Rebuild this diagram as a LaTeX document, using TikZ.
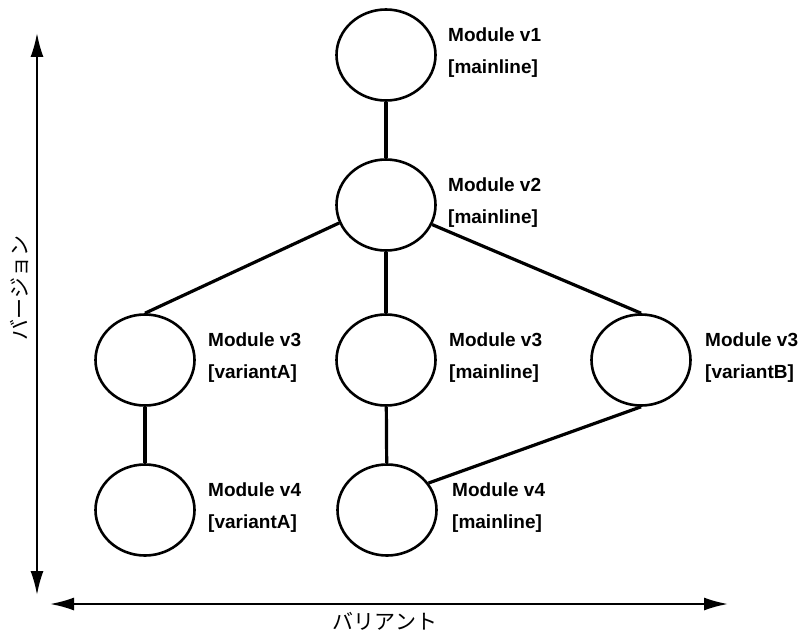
\documentclass[tikz,border=0pt]{standalone}
\usepackage{fontspec}
\setmainfont{Liberation Sans}
\newfontfamily\jp{Noto Sans CJK JP}
\usetikzlibrary{arrows.meta,shapes.geometric}
\begin{document}
\begin{tikzpicture}[x=1pt,y=-1pt,
  mod/.style={draw,ellipse,line width=2.6pt,minimum width=99pt,minimum height=91pt,inner sep=0pt},
  lbl/.style={anchor=west,align=left,inner sep=0pt,font=\bfseries\fontsize{19}{32}\selectfont},
  link/.style={line width=3.2pt},
  axis/.style={line width=2pt,{Latex[length=24pt,width=13pt]}-{Latex[length=24pt,width=13pt]}},
  axlbl/.style={font=\jp\fontsize{21}{21}\selectfont,inner sep=0pt}]
\useasboundingbox (0,0) rectangle (802,634);
% modules
\node[mod] (v1)  at (386,55)  {};
\node[mod] (v2)  at (386,205) {};
\node[mod] (v3a) at (145,360) {};
\node[mod] (v3m) at (386,360) {};
\node[mod] (v3b) at (641,360) {};
\node[mod] (v4a) at (145,510) {};
\node[mod] (v4m) at (387,510) {};
% labels
\node[lbl] (l1)  at (448,53)  {Module v1\\{}[mainline]};
\node[lbl] (l2)  at (448,203) {Module v2\\{}[mainline]};
\node[lbl] (l3a) at (208,358) {Module v3\\{}[variantA]};
\node[lbl] (l3m) at (449,358) {Module v3\\{}[mainline]};
\node[lbl] (l3b) at (705,358) {Module v3\\{}[variantB]};
\node[lbl] (l4a) at (208,508) {Module v4\\{}[variantA]};
\node[lbl] (l4m) at (452,508) {Module v4\\{}[mainline]};
% connectors
\draw[link] (v1) -- (v2);
\draw[link] (v2) -- (v3m);
\draw[link] (v2.201) -- (v3a.north);
\draw[link] (v2.337) -- (v3b.north);
\draw[link] (v3a) -- (v4a);
\draw[link] (v3m) -- (v4m);
\draw[link] (v3b.south) -- (v4m.33);
% axes
\coordinate (yt) at (37,33);
\coordinate (yb) at (37,595);
\coordinate (xl) at (50,604);
\coordinate (xr) at (728,604);
\draw[axis] (yt) -- (yb);
\draw[axis] (xl) -- (xr);
\node[axlbl,rotate=90] (ylab) at (19,288) {バージョン};
\node[axlbl] (xlab) at (385,621) {バリアント};
\end{tikzpicture}
\end{document}
